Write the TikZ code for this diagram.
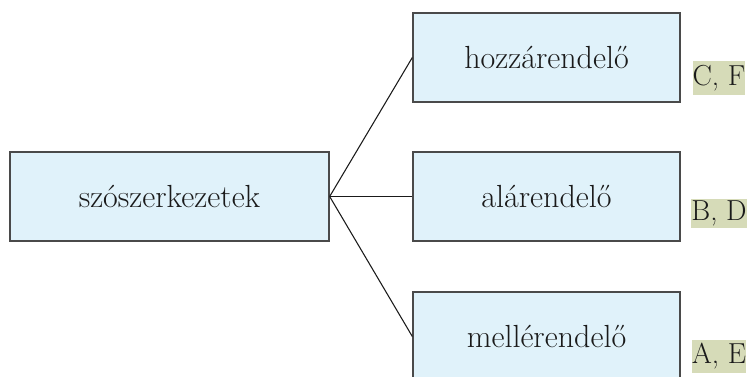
\documentclass[tikz,border=0pt]{standalone}
\definecolor{boxfill}{HTML}{E0F2FA}
\definecolor{boxline}{HTML}{4A4A4A}
\definecolor{tagfill}{HTML}{D6DBB8}
\definecolor{txt}{HTML}{1A1A1A}
\begin{document}
\begin{tikzpicture}[x=0.75pt,y=-0.75pt,
  catbox/.style={draw=boxline,fill=boxfill,line width=1pt,inner sep=0pt,
    text=txt,font=\fontsize{24}{28}\selectfont,
    minimum height=89*0.75pt},
  tagbox/.style={fill=tagfill,inner sep=0pt,minimum width=48*0.75pt,
    text=txt,font=\fontsize{21.7}{26}\selectfont},
  link/.style={draw=txt,line width=0.8pt}]
\useasboundingbox (0,0) rectangle (747,376);
\clip (0,0) rectangle (747,376);
\node[catbox,minimum width=319*0.75pt] (root) at (169.5,196.5) {szószerkezetek};
\node[catbox,minimum width=267*0.75pt] (hoz) at (546.5,57.5) {hozzárendelő};
\node[catbox,minimum width=267*0.75pt] (ala) at (546.5,196.5) {alárendelő};
\node[catbox,minimum width=267*0.75pt] (mel) at (546.5,336.5) {mellérendelő};
\node[tagbox,minimum height=34*0.75pt] (cf) at (719,78) {C, F};
\node[tagbox,minimum height=29*0.75pt] (bd) at (719,213.5) {B, D};
\node[tagbox,minimum height=33*0.75pt] (ae) at (719,356.5) {A, E};
\draw[link] (root.east) -- (hoz.west);
\draw[link] (root.east) -- (ala.west);
\draw[link] (root.east) -- (mel.west);
\end{tikzpicture}
\end{document}
